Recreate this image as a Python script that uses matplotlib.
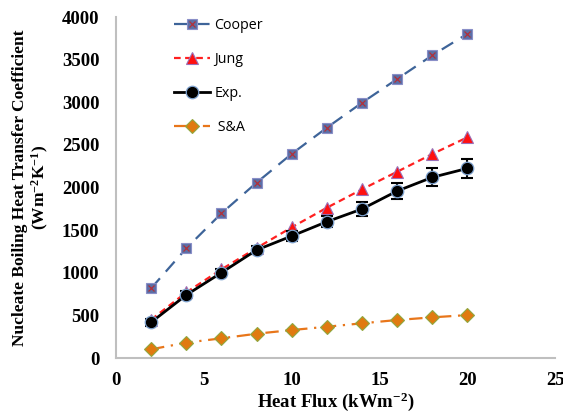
import numpy as np
import matplotlib.pyplot as plt

plt.rcParams['mathtext.fontset'] = 'custom'
plt.rcParams['mathtext.rm'] = 'Liberation Serif:bold'
plt.rcParams['mathtext.default'] = 'rm'

# data
heat_flux = [2, 4, 6, 8, 10, 12, 14, 16, 18, 20]
cooper = [818, 1287, 1697, 2057, 2395, 2702, 2995, 3273, 3551, 3804]
jung = [450, 770, 1040, 1290, 1533, 1763, 1979, 2185, 2393, 2589]
exp_h = [419, 739, 1001, 1267, 1431, 1599, 1748, 1959, 2120, 2225]
exp_err = [40, 45, 45, 50, 55, 65, 80, 95, 105, 110]
sa = [102, 180, 231, 285, 328, 367, 407, 446, 477, 504]

fig = plt.figure(figsize=(5.63, 4.18), dpi=100)
ax = fig.add_axes([0.206, 0.1435, 0.78, 0.8155])

# Cooper: square with red cross on top
c1, = ax.plot(heat_flux, cooper, color='#3e6499', ls=(0, (6, 4)), lw=1.6,
              marker='s', ms=7, mfc='#5b6fa6', mec='#8a8fc8', mew=0.8)
c2, = ax.plot(heat_flux, cooper, ls='none', marker='x', ms=5, mec='#b0303a', mew=0.9)

# Jung
j1, = ax.plot(heat_flux, jung, color='#ff2020', ls=(0, (3, 2)), lw=1.6,
              marker='^', ms=8, mfc='#ff1010', mec='#9a70b8', mew=0.8)

# Exp. with error bars
ax.errorbar(heat_flux, exp_h, yerr=exp_err, fmt='none', ecolor='black',
            elinewidth=1.5, capsize=4, capthick=1.5, zorder=3)
e1, = ax.plot(heat_flux, exp_h, color='black', lw=2,
              marker='o', ms=9, mfc='black', mec='#7fa3d0', mew=0.9, zorder=4)

# S&A
s1, = ax.plot(heat_flux, sa, color='#e8761a', ls=(0, (6, 3, 1, 3)), lw=1.6,
              marker='D', ms=7, mfc='#e07a10', mec='#90a840', mew=0.8)

ax.set_xlim(0, 25)
ax.set_ylim(0, 4000)
ax.set_xticks(np.arange(0, 26, 5))
ax.set_yticks(np.arange(0, 4001, 500))
for s in ['top', 'right']:
    ax.spines[s].set_visible(False)
for s in ['left', 'bottom']:
    ax.spines[s].set_color('#bfbfbf')
    ax.spines[s].set_linewidth(1.5)
ax.tick_params(axis='y', length=0, pad=12)
ax.tick_params(axis='x', length=0, pad=10)
for lab in ax.get_xticklabels() + ax.get_yticklabels():
    lab.set_fontfamily('Liberation Serif')
    lab.set_fontweight('bold')
    lab.set_fontsize(13.5)

ax.set_xlabel('Heat Flux (kWm$^{-2}$)', fontfamily='Liberation Serif',
              fontweight='bold', fontsize=13.5, labelpad=1)
ax.set_ylabel('Nucleate Boiling Heat Transfer Coefficient\n(Wm$^{-2}$K$^{-1}$)',
              fontfamily='Liberation Serif', fontweight='bold', fontsize=12.5,
              labelpad=8, linespacing=1.1)

ax.legend([(c1, c2), j1, e1, s1], ['Cooper', 'Jung', 'Exp.', ' S&A'],
          loc='upper left', bbox_to_anchor=(167 / 563, 1 - 11 / 418),
          bbox_transform=fig.transFigure, frameon=False, borderpad=0,
          labelspacing=1.32, handlelength=2.5, handletextpad=0.3,
          prop={'family': 'Open Sans', 'size': 10.3})

fig.savefig('out.png', dpi=100)
